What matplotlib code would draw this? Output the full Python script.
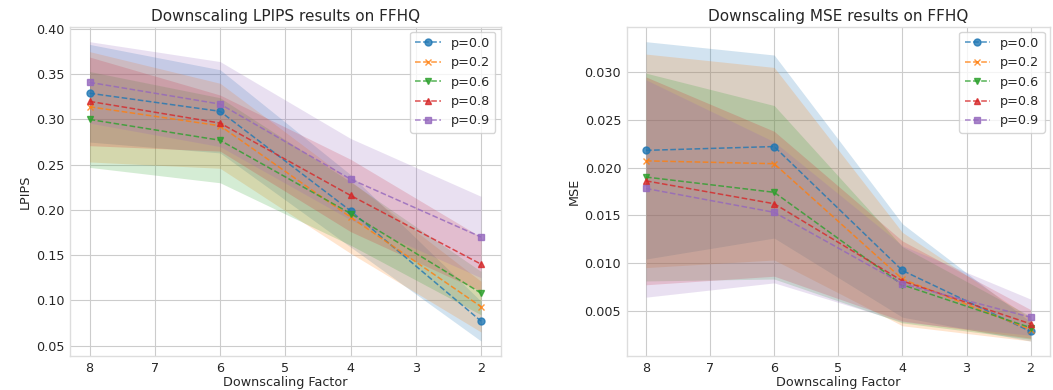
import numpy as np
import matplotlib
matplotlib.use("Agg")
import matplotlib.pyplot as plt
from matplotlib.ticker import FormatStrFormatter

plt.style.use("seaborn-v0_8-whitegrid")
plt.rcParams['font.family'] = ['DejaVu Sans']

factors = [8, 6, 4, 2]
labels = ["p=0.0", "p=0.2", "p=0.6", "p=0.8", "p=0.9"]
markers = ["o", "x", "v", "^", "s"]

# LPIPS mean and standard deviation per dropout probability
lpips_p00 = [0.329, 0.309, 0.199, 0.077]
lpips_p02 = [0.314, 0.293, 0.192, 0.093]
lpips_p06 = [0.300, 0.277, 0.196, 0.108]
lpips_p08 = [0.320, 0.296, 0.216, 0.140]
lpips_p09 = [0.341, 0.317, 0.234, 0.170]
lpips_std_p00 = [0.054, 0.046, 0.040, 0.022]
lpips_std_p02 = [0.061, 0.047, 0.040, 0.028]
lpips_std_p06 = [0.053, 0.047, 0.035, 0.024]
lpips_std_p08 = [0.049, 0.031, 0.040, 0.030]
lpips_std_p09 = [0.045, 0.047, 0.045, 0.045]

# MSE mean and standard deviation per dropout probability
mse_p00 = [0.0218, 0.0222, 0.0092, 0.0028]
mse_p02 = [0.0207, 0.0204, 0.0083, 0.0030]
mse_p06 = [0.0190, 0.0174, 0.0077, 0.0032]
mse_p08 = [0.0186, 0.0162, 0.0081, 0.0036]
mse_p09 = [0.0178, 0.0153, 0.0078, 0.0043]
mse_std_p00 = [0.0114, 0.0096, 0.0049, 0.0010]
mse_std_p02 = [0.0112, 0.0101, 0.0049, 0.0012]
mse_std_p06 = [0.0109, 0.0091, 0.0040, 0.0012]
mse_std_p08 = [0.0109, 0.0076, 0.0042, 0.0015]
mse_std_p09 = [0.0114, 0.0074, 0.0040, 0.0019]

lpips_means = [lpips_p00, lpips_p02, lpips_p06, lpips_p08, lpips_p09]
lpips_stds = [lpips_std_p00, lpips_std_p02, lpips_std_p06, lpips_std_p08, lpips_std_p09]
mse_means = [mse_p00, mse_p02, mse_p06, mse_p08, mse_p09]
mse_stds = [mse_std_p00, mse_std_p02, mse_std_p06, mse_std_p08, mse_std_p09]

colors = ["#1f77b4", "#ff7f0e", "#2ca02c", "#d62728", "#9467bd"]

fig = plt.figure(figsize=(10.53, 3.9), dpi=100)
ax1 = fig.add_axes([0.0665, 0.0872, 0.4089, 0.8443])
ax2 = fig.add_axes([0.5952, 0.0872, 0.4018, 0.8443])

FS = 9.2


def draw(ax, means, stds, title, ylabel):
    x = np.array(factors)
    for m, s, lab, mk, c in zip(means, stds, labels, markers, colors):
        m = np.array(m)
        s = np.array(s)
        ax.plot(x, m, linestyle="--", marker=mk, color=c, label=lab,
                linewidth=1.1, markersize=5, alpha=0.8)
        ax.fill_between(x, m - s, m + s, color=c, alpha=0.2, linewidth=0)
    ax.invert_xaxis()
    ax.set_title(title, fontsize=11, pad=4)
    ax.set_xlabel("Downscaling Factor", fontsize=FS, labelpad=1)
    ax.set_ylabel(ylabel, fontsize=FS, labelpad=3)
    ax.tick_params(labelsize=FS, pad=4)
    for sp in ax.spines.values():
        sp.set_visible(True)
        sp.set_color("#dddddd")
    ax.legend(loc="upper right", frameon=True, fontsize=FS,
              borderaxespad=0.4)


draw(ax1, lpips_means, lpips_stds, "Downscaling LPIPS results on FFHQ", "LPIPS")
draw(ax2, mse_means, mse_stds, "Downscaling MSE results on FFHQ", "MSE")
ax2.yaxis.set_major_formatter(FormatStrFormatter("%.3f"))

fig.savefig("out.png", dpi=100)
